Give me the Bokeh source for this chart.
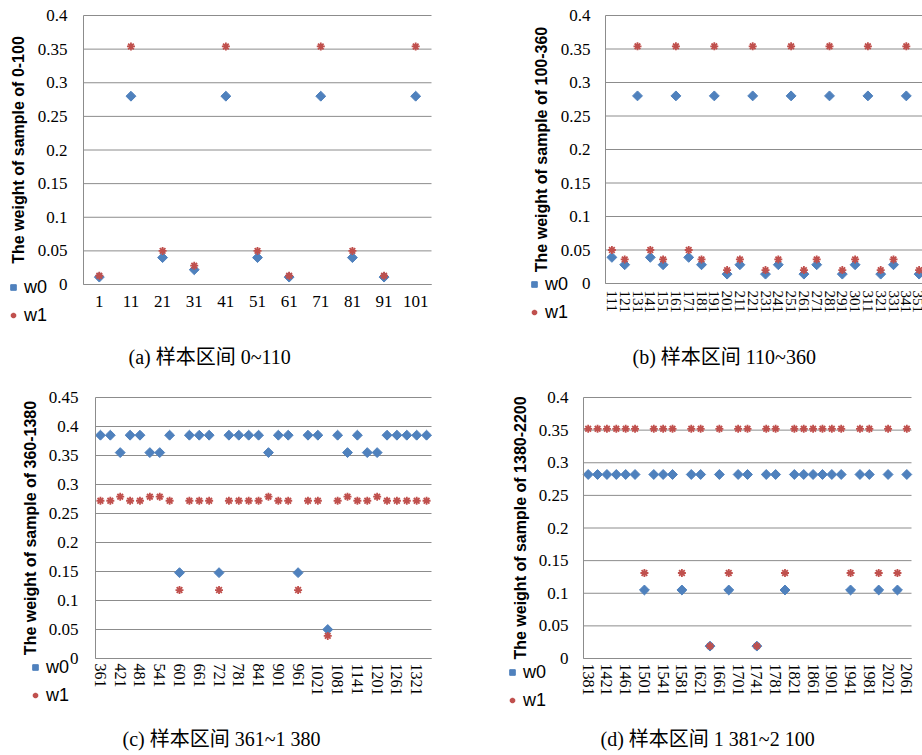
from bokeh.plotting import figure
from bokeh.models import (Range1d, FixedTicker, CustomJSTickFormatter, Legend,
                          LegendItem, Label)
from bokeh.layouts import column, row
from bokeh.embed import file_html
from bokeh.resources import INLINE
import math

BLUE = "#4F81BD"
RED = "#C0504D"
GRID = "#8C8C8C"
SERIF = "Liberation Serif"
CAPFONT = "Liberation Serif, Noto Sans CJK SC"

# ---------------- data ----------------
# (a) sample interval 0~110
a_x = [1, 11, 21, 31, 41, 51, 61, 71, 81, 91, 101]
a_w0 = [0.011, 0.280, 0.040, 0.022, 0.280, 0.040, 0.011, 0.280, 0.040, 0.011, 0.280]
a_w1 = [0.013, 0.354, 0.050, 0.028, 0.354, 0.050, 0.013, 0.354, 0.050, 0.013, 0.354]
a_ticks = [1, 11, 21, 31, 41, 51, 61, 71, 81, 91, 101]

# (b) sample interval 110~360
b_x = [111, 121, 131, 141, 151, 161, 171, 181, 191, 201, 211, 221, 231,
       241, 251, 261, 271, 281, 291, 301, 311, 321, 331, 341, 351]
b_w0 = [0.039, 0.028, 0.280, 0.039, 0.028, 0.280, 0.039, 0.028, 0.280, 0.014,
        0.028, 0.280, 0.014, 0.028, 0.280, 0.014, 0.028, 0.280, 0.014, 0.028,
        0.280, 0.014, 0.028, 0.280, 0.014]
b_w1 = [0.050, 0.036, 0.354, 0.050, 0.036, 0.354, 0.050, 0.036, 0.354, 0.020,
        0.036, 0.354, 0.020, 0.036, 0.354, 0.020, 0.036, 0.354, 0.020, 0.036,
        0.354, 0.020, 0.036, 0.354, 0.020]
b_ticks = b_x

# (c) sample interval 361~1380
c_x = [361, 391, 421, 451, 481, 511, 541, 571, 601, 631, 661, 691, 721, 751,
       781, 811, 841, 871, 901, 931, 961, 991, 1021, 1051, 1081, 1111, 1141,
       1171, 1201, 1231, 1261, 1291, 1321, 1351]
c_w0 = [0.385, 0.385, 0.355, 0.385, 0.385, 0.355, 0.355, 0.385, 0.148, 0.385,
        0.385, 0.385, 0.148, 0.385, 0.385, 0.385, 0.385, 0.355, 0.385, 0.385,
        0.148, 0.385, 0.385, 0.050, 0.385, 0.355, 0.385, 0.355, 0.355, 0.385,
        0.385, 0.385, 0.385, 0.385]
c_w1 = [0.272, 0.272, 0.279, 0.272, 0.272, 0.279, 0.279, 0.272, 0.118, 0.272,
        0.272, 0.272, 0.118, 0.272, 0.272, 0.272, 0.272, 0.279, 0.272, 0.272,
        0.118, 0.272, 0.272, 0.039, 0.272, 0.279, 0.272, 0.272, 0.279, 0.272,
        0.272, 0.272, 0.272, 0.272]
c_ticks = [361, 421, 481, 541, 601, 661, 721, 781, 841, 901, 961, 1021, 1081,
           1141, 1201, 1261, 1321]

# (d) sample interval 1381~2100
d_x = [1381, 1401, 1421, 1441, 1461, 1481, 1501, 1521, 1541, 1561, 1581, 1601,
       1621, 1641, 1661, 1681, 1701, 1721, 1741, 1761, 1781, 1801, 1821, 1841,
       1861, 1881, 1901, 1921, 1941, 1961, 1981, 2001, 2021, 2041, 2061]
d_w0 = [0.282, 0.282, 0.282, 0.282, 0.282, 0.282, 0.105, 0.282, 0.282, 0.282,
        0.105, 0.282, 0.282, 0.019, 0.282, 0.105, 0.282, 0.282, 0.019, 0.282,
        0.282, 0.105, 0.282, 0.282, 0.282, 0.282, 0.282, 0.282, 0.105, 0.282,
        0.282, 0.105, 0.282, 0.105, 0.282]
d_w1 = [0.352, 0.352, 0.352, 0.352, 0.352, 0.352, 0.131, 0.352, 0.352, 0.352,
        0.131, 0.352, 0.352, 0.019, 0.352, 0.131, 0.352, 0.352, 0.019, 0.352,
        0.352, 0.131, 0.352, 0.352, 0.352, 0.352, 0.352, 0.352, 0.131, 0.352,
        0.352, 0.131, 0.352, 0.131, 0.352]
d_ticks = [1381, 1421, 1461, 1501, 1541, 1581, 1621, 1661, 1701, 1741, 1781,
           1821, 1861, 1901, 1941, 1981, 2021, 2061]

y_ticks_40 = [0, 0.05, 0.1, 0.15, 0.2, 0.25, 0.3, 0.35, 0.4]
y_ticks_45 = [0, 0.05, 0.1, 0.15, 0.2, 0.25, 0.3, 0.35, 0.4, 0.45]

series_names = ["w0", "w1"]


def panel(xs, w0, w1, xlim, xticks, ylim, yticks, ytitle, caption,
          W, H, plot_box, ylab_standoff, ytitle_standoff, xlab_standoff,
          vertical, xlab_size, leg_pos, cap_pos):
    """plot_box = (left, right, top, bottom) of the plot area in canvas px.
    The frame covers the whole canvas; axes sit at fixed data locations."""
    L, R, T, B = plot_box
    ux = (xlim[1] - xlim[0]) / (R - L)
    uy = (ylim[1] - ylim[0]) / (B - T)
    xr = Range1d(xlim[0] - L * ux, xlim[1] + (W - R) * ux)
    yr = Range1d(ylim[0] - (H - B) * uy, ylim[1] + T * uy)

    p = figure(width=W, height=H, output_backend="svg", toolbar_location=None,
               x_range=xr, y_range=yr, min_border=0,
               min_border_left=0, min_border_right=0,
               min_border_top=0, min_border_bottom=0)
    p.outline_line_color = None
    p.background_fill_color = "white"
    p.border_fill_color = "white"
    p.xgrid.visible = False
    p.ygrid.visible = False

    # horizontal gridlines across the plot area, at the y tick values
    n = len(yticks)
    p.segment(x0=[xlim[0]] * n, y0=yticks, x1=[xlim[1]] * n, y1=yticks,
              line_color=GRID, line_width=1)

    r0 = p.scatter(xs, w0, marker="square", angle=math.pi / 4, size=7,
                   fill_color=BLUE, line_color=BLUE)
    r1 = p.scatter(xs, w1, marker="asterisk", size=8, line_color=RED,
                   line_width=1.8)

    # y axis
    yax = p.yaxis[0]
    yax.fixed_location = xlim[0]
    yax.bounds = ylim
    yax.ticker = FixedTicker(ticks=yticks)
    yax.formatter = CustomJSTickFormatter(code="return String(Number(tick.toFixed(2)));")
    yax.major_tick_out = 0
    yax.major_tick_in = 0
    yax.minor_tick_out = 0
    yax.minor_tick_in = 0
    yax.axis_line_color = GRID
    yax.major_label_standoff = ylab_standoff
    yax.major_label_text_font = SERIF
    yax.major_label_text_font_size = "17px"
    yax.major_label_text_color = "black"
    yax.axis_label = ytitle
    yax.axis_label_text_font = "Liberation Sans"
    yax.axis_label_text_font_style = "bold"
    yax.axis_label_text_font_size = "16px"
    yax.axis_label_text_color = "black"
    yax.axis_label_standoff = ytitle_standoff

    # x axis
    xax = p.xaxis[0]
    xax.fixed_location = ylim[0]
    xax.bounds = xlim
    xax.ticker = FixedTicker(ticks=xticks)
    xax.formatter = CustomJSTickFormatter(code="return String(Math.round(tick));")
    xax.major_tick_out = 0
    xax.major_tick_in = 0
    xax.minor_tick_out = 0
    xax.minor_tick_in = 0
    xax.axis_line_color = GRID
    xax.major_label_standoff = xlab_standoff
    xax.major_label_text_font = SERIF
    xax.major_label_text_font_size = xlab_size
    xax.major_label_text_color = "black"
    if vertical:
        xax.major_label_orientation = "vertical"

    # legend below-left of the plot area (inside the frame, screen offsets)
    gl, row0 = leg_pos           # glyph-box left, centre of first row (canvas px)
    row_h, spacing = 21, 7
    leg_bottom = row0 - row_h / 2 + 2 * row_h + spacing
    leg = Legend(items=[LegendItem(label=series_names[0], renderers=[r0]),
                        LegendItem(label=series_names[1], renderers=[r1])],
                 location=(gl, H - leg_bottom), orientation="vertical",
                 border_line_color=None, background_fill_alpha=0,
                 padding=0, margin=0, glyph_width=14, glyph_height=16,
                 label_standoff=4, spacing=spacing, label_height=row_h,
                 label_text_font="Liberation Sans", label_text_font_size="18px",
                 label_text_color="black")
    p.add_layout(leg)

    # caption under the panel
    cx_px, cy_px = cap_pos
    p.add_layout(Label(x=xr.start + cx_px * ux, y=yr.end - cy_px * uy,
                       text=caption, text_align="left", text_baseline="middle",
                       text_font=CAPFONT, text_font_size="20px",
                       text_color="black"))
    return p


pa = panel(a_x, a_w0, a_w1, (-4, 106), a_ticks, (0, 0.4), y_ticks_40,
           "The weight of sample of 0-100", "(a)  样本区间  0~110",
           461, 370, (83, 431, 15, 284), 16, 8, 11, False, "17px",
           (6, 287), (128, 356))
pb = panel(b_x, b_w0, b_w1, (106, 356), b_ticks, (0, 0.4), y_ticks_40,
           "The weight of sample of 100-360", "(b)  样本区间  110~360",
           461, 370, (144, 464, 15, 283), 15, 8, 7, True, "15px",
           (66, 284), (171, 356))
pc = panel(c_x, c_w0, c_w1, (346, 1366), c_ticks, (0, 0.45), y_ticks_45,
           "The weight of sample of 360-1380", "(c)  样本区间  361~1 380",
           461, 385, (95, 431, 27, 288), 17, 7, 5, True, "16px",
           (28, 297), (122, 368))
pd_ = panel(d_x, d_w0, d_w1, (1371, 2071), d_ticks, (0, 0.4), y_ticks_40,
            "The weight of sample of 1380-2200", "(d)  样本区间  1 381~2 100",
            461, 385, (122, 450, 27, 288), 15, 7, 5, True, "16px",
            (44, 302), (139, 368))

layout = column(row(pa, pb, spacing=0), row(pc, pd_, spacing=0), spacing=0)

open("out.html", "w").write(file_html(layout, INLINE))
